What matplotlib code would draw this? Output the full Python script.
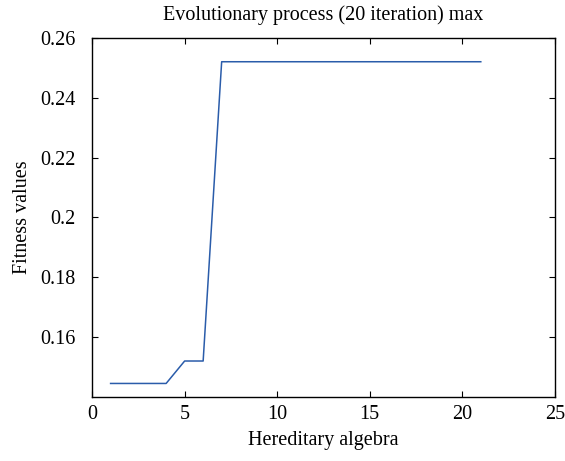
import matplotlib
matplotlib.use("Agg")
import matplotlib.pyplot as plt

# hereditary algebra (generation) vs best fitness
generations = [1, 2, 3, 4, 5, 6, 7, 8, 9, 10, 11, 12, 13, 14, 15, 16, 17, 18, 19, 20, 21]
fitness_max = [0.1445, 0.1445, 0.1445, 0.1445, 0.152, 0.152, 0.252, 0.252, 0.252, 0.252,
               0.252, 0.252, 0.252, 0.252, 0.252, 0.252, 0.252, 0.252, 0.252, 0.252, 0.252]

y_ticks = [0.16, 0.18, 0.20, 0.22, 0.24, 0.26]
y_tick_labels = ["0.16", "0.18", "0.2", "0.22", "0.24", "0.26"]
x_ticks = [0, 5, 10, 15, 20, 25]

plt.rcParams['font.family'] = ['Liberation Serif', 'DejaVu Serif']

fig = plt.figure(figsize=(5.65, 4.61), dpi=100)
ax = fig.add_axes([0.163, 0.139, 0.819, 0.779])

ax.plot(generations, fitness_max, color='#2a5caa', linewidth=1.1)

ax.set_xlim(0, 25)
ax.set_ylim(0.14, 0.26)
ax.set_xticks(x_ticks)
ax.set_yticks(y_ticks)
ax.set_yticklabels(y_tick_labels)
ax.tick_params(direction='in', top=True, right=True, labelsize=14.5, length=4)
ax.tick_params(axis='x', pad=6)
ax.tick_params(axis='y', pad=12)
for s in ax.spines.values():
    s.set_linewidth(1.0)

ax.set_xlabel("Hereditary algebra", fontsize=14.5, labelpad=5)
ax.set_ylabel("Fitness values", fontsize=14.5, labelpad=6)
ax.set_title("Evolutionary process (20 iteration) max", fontsize=14.5, pad=13)

fig.savefig("out.png", dpi=100)
